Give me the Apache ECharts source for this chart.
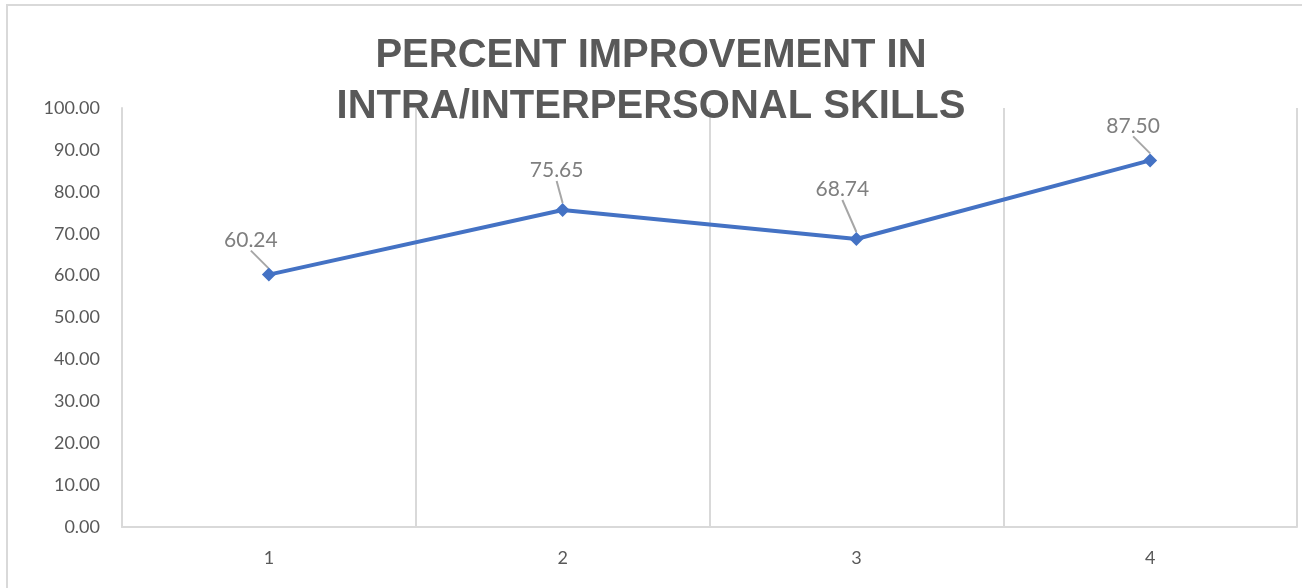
<!DOCTYPE html>
<html>
<head>
<meta charset="utf-8">
<style>
html,body{margin:0;padding:0;background:#fff;}
#chart{width:1302px;height:588px;}
</style>
<script src="https://cdn.jsdelivr.net/npm/echarts@6/dist/echarts.min.js"></script>
</head>
<body>
<div id="chart"></div>
<script>
const categories = ['1', '2', '3', '4'];
const values = [60.24, 75.65, 68.74, 87.50];
const labelShift = [[-18, -12], [-6, -17], [-14, -27], [-17, -12]];
const titleText = 'PERCENT IMPROVEMENT IN\nINTRA/INTERPERSONAL SKILLS';

const chart = echarts.init(document.getElementById('chart'), null, {renderer: 'canvas'});
chart.setOption({
  backgroundColor: '#ffffff',
  animation: false,
  title: {
    text: titleText,
    left: 'center',
    top: 25,
    textStyle: {
      fontFamily: 'Liberation Sans',
      fontWeight: 'bold',
      fontSize: 40,
      lineHeight: 51,
      color: '#595959'
    }
  },
  graphic: [{
    type: 'rect',
    silent: true,
    shape: {x: 7, y: 5, width: 1400, height: 700},
    style: {fill: 'none', stroke: '#d9d9d9', lineWidth: 2}
  }],
  grid: {left: 122, right: 5, top: 108, bottom: 61},
  xAxis: {
    type: 'category',
    data: categories,
    boundaryGap: true,
    axisLine: {show: true, lineStyle: {color: '#d9d9d9', width: 2}},
    axisTick: {show: false},
    axisLabel: {color: '#595959', fontSize: 18, fontFamily: 'Lato', margin: 22},
    splitLine: {show: true, lineStyle: {color: '#d9d9d9', width: 2}}
  },
  yAxis: {
    type: 'value',
    min: 0,
    max: 100,
    interval: 10,
    axisLine: {show: true, lineStyle: {color: '#d9d9d9', width: 2}},
    axisTick: {show: false},
    splitLine: {show: false},
    axisLabel: {
      color: '#595959', fontSize: 18, fontFamily: 'Lato', margin: 22,
      formatter: v => v.toFixed(2)
    }
  },
  series: [{
    type: 'line',
    data: values,
    lineStyle: {color: '#4472C4', width: 4},
    itemStyle: {color: '#4472C4'},
    symbol: 'diamond',
    symbolSize: 14,
    label: {
      show: true,
      position: 'top',
      color: '#7f7f7f',
      fontSize: 21,
      fontFamily: 'Lato',
      formatter: p => p.value.toFixed(2)
    },
    labelLine: {show: true, lineStyle: {color: '#a6a6a6', width: 2}},
    labelLayout: p => ({dx: labelShift[p.dataIndex][0], dy: labelShift[p.dataIndex][1]})
  }]
});
</script>
</body>
</html>
